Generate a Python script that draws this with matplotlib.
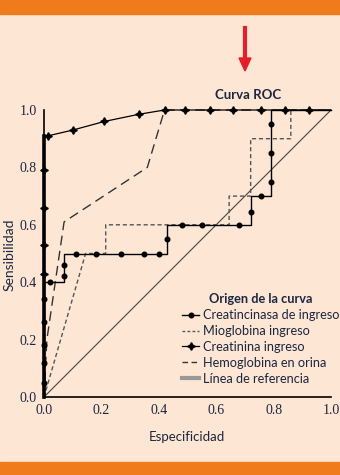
import matplotlib.pyplot as plt
from matplotlib.patches import Rectangle

# Creatincinasa de ingreso (solid, round markers)
ck_x = [0, 0, 0.07, 0.07, 0.43, 0.43, 0.72, 0.72, 0.79, 0.79, 1.0]
ck_y = [0, 0.40, 0.40, 0.50, 0.50, 0.60, 0.60, 0.70, 0.70, 1.0, 1.0]
ck_mx = [0, 0, 0, 0, 0, 0.02, 0.07, 0.07, 0.11, 0.18, 0.27, 0.35, 0.40,
         0.43, 0.48, 0.55, 0.68, 0.72, 0.755, 0.79, 0.79, 0.79]
ck_my = [0.05, 0.12, 0.18, 0.26, 0.34, 0.40, 0.42, 0.46, 0.50, 0.50, 0.50, 0.50, 0.50,
         0.55, 0.60, 0.60, 0.60, 0.645, 0.70, 0.75, 0.85, 0.95]

# Mioglobina ingreso (short dashes)
mio_x = [0, 0.145, 0.215, 0.215, 0.645, 0.645, 0.72, 0.72, 0.86, 0.86, 1.0]
mio_y = [0, 0.50, 0.50, 0.60, 0.60, 0.70, 0.70, 0.90, 0.90, 1.0, 1.0]

# Creatinina ingreso (solid, star markers)
cr_x = [0, 0, 0.014, 0.10, 0.21, 0.33, 0.42, 1.0]
cr_y = [0, 0.91, 0.91, 0.93, 0.96, 0.985, 1.0, 1.0]
cr_mx = [0, 0, 0, 0, 0.014, 0.10, 0.21, 0.33, 0.42, 0.49, 0.58, 0.66, 0.755, 0.84, 0.925]
cr_my = [0.43, 0.53, 0.66, 0.79, 0.91, 0.93, 0.96, 0.985, 1, 1, 1, 1, 1, 1, 1]

# Hemoglobina en orina (long dashes)
hb_x = [0, 0.01, 0.07, 0.36, 0.42, 1.0]
hb_y = [0, 0.20, 0.61, 0.80, 1.0, 1.0]

ref_x = [0, 1]
ref_y = [0, 1]

ticks = [0.0, 0.2, 0.4, 0.6, 0.8, 1.0]
labels = ['Creatincinasa de ingreso', 'Mioglobina ingreso', 'Creatinina ingreso',
          'Hemoglobina en orina', 'Línea de referencia']

BG = '#fde7d4'
ORANGE = '#ef7b1a'
NAVY = '#1c2640'
SANS = ['Lato', 'DejaVu Sans']
SERIF = ['Liberation Serif', 'DejaVu Serif']

fig = plt.figure(figsize=(3.4, 4.75), dpi=100, facecolor=BG)
fig.patches.append(Rectangle((0, 1 - 14 / 475), 1, 14 / 475, transform=fig.transFigure,
                             color=ORANGE, zorder=0))
fig.patches.append(Rectangle((0, 0), 1, 13 / 475, transform=fig.transFigure,
                             color=ORANGE, zorder=0))

# red arrow
fig.add_artist(plt.Line2D([245 / 340, 245 / 340], [1 - 28 / 475, 1 - 60 / 475],
                          transform=fig.transFigure, color='#e3202a', lw=3))
fig.add_artist(plt.Polygon([[239 / 340, 1 - 58 / 475], [251 / 340, 1 - 58 / 475],
                            [245 / 340, 1 - 71 / 475]], closed=True,
                           transform=fig.transFigure, color='#e3202a'))

ax = fig.add_axes([44 / 340, 78 / 475, 287 / 340, 287 / 475])
ax.set_facecolor('none')

l_ref, = ax.plot(ref_x, ref_y, color='#444444', lw=0.8, zorder=2)
l_hb, = ax.plot(hb_x, hb_y, color='#333333', lw=1, dashes=(7, 4), clip_on=False, zorder=3)
l_mio, = ax.plot(mio_x, mio_y, color='#555555', lw=1, dashes=(3, 2), clip_on=False, zorder=3)
l_ck, = ax.plot(ck_x, ck_y, color='black', lw=1, clip_on=False, zorder=4)
m_ck, = ax.plot(ck_mx, ck_my, 'o', color='black', ms=3.3, clip_on=False, zorder=5)
l_cr, = ax.plot(cr_x, cr_y, color='black', lw=0.9, clip_on=False, zorder=4)
ax.plot(cr_x[:2], cr_y[:2], color='black', lw=2.6, clip_on=False, zorder=4)
m_cr, = ax.plot(cr_mx, cr_my, marker=(4, 1, 0), ls='none', color='black', ms=5.5,
                clip_on=False, zorder=5)

ax.set_xlim(0, 1.0)
ax.set_ylim(0, 1.0)
ax.set_xticks(ticks)
ax.set_yticks(ticks)
ax.set_xticklabels([f'{t:.1f}' for t in ticks], family=SERIF, fontsize=10, color=NAVY)
ax.set_yticklabels([f'{t:.1f}' for t in ticks], family=SERIF, fontsize=10, color=NAVY)
ax.tick_params(length=0, pad=5)
for s in ['top', 'right']:
    ax.spines[s].set_visible(False)
for s in ['left', 'bottom']:
    ax.spines[s].set_linewidth(1.2)

fig.text(248 / 340, 1 - 95 / 475, 'Curva ROC', ha='center', va='center',
         fontsize=9.5, fontweight='bold', family=SANS, color=NAVY)
fig.text(10 / 340, 1 - 255 / 475, 'Sensibilidad', rotation=90, ha='center', va='center',
         fontsize=10, family=SANS, color=NAVY)
fig.text(187 / 340, 1 - 437 / 475, 'Especificidad', ha='center', va='center',
         fontsize=9.5, family=SANS, color=NAVY)

leg = ax.legend([(l_ck, m_ck), l_mio, (l_cr, m_cr), l_hb, l_ref], labels,
                title='Origen de la curva', loc='upper left',
                bbox_to_anchor=(176 / 340, 1 - 287 / 475), bbox_transform=fig.transFigure,
                frameon=False, borderpad=0, handlelength=1.3, handletextpad=0.35,
                labelspacing=0.3, prop={'family': SANS, 'size': 9.2})
leg.get_title().set_fontweight('bold')
leg.get_title().set_family(SANS)
leg.get_title().set_fontsize(9.2)
leg.get_title().set_color(NAVY)
for t in leg.get_texts():
    t.set_color(NAVY)
hnd = leg.legend_handles
hnd[1].set_dashes((2, 1.6))
hnd[3].set_dashes((4, 2.5))
hnd[4].set_linewidth(3)
hnd[4].set_color('#999999')

fig.savefig('out.png', dpi=100, facecolor=BG)
